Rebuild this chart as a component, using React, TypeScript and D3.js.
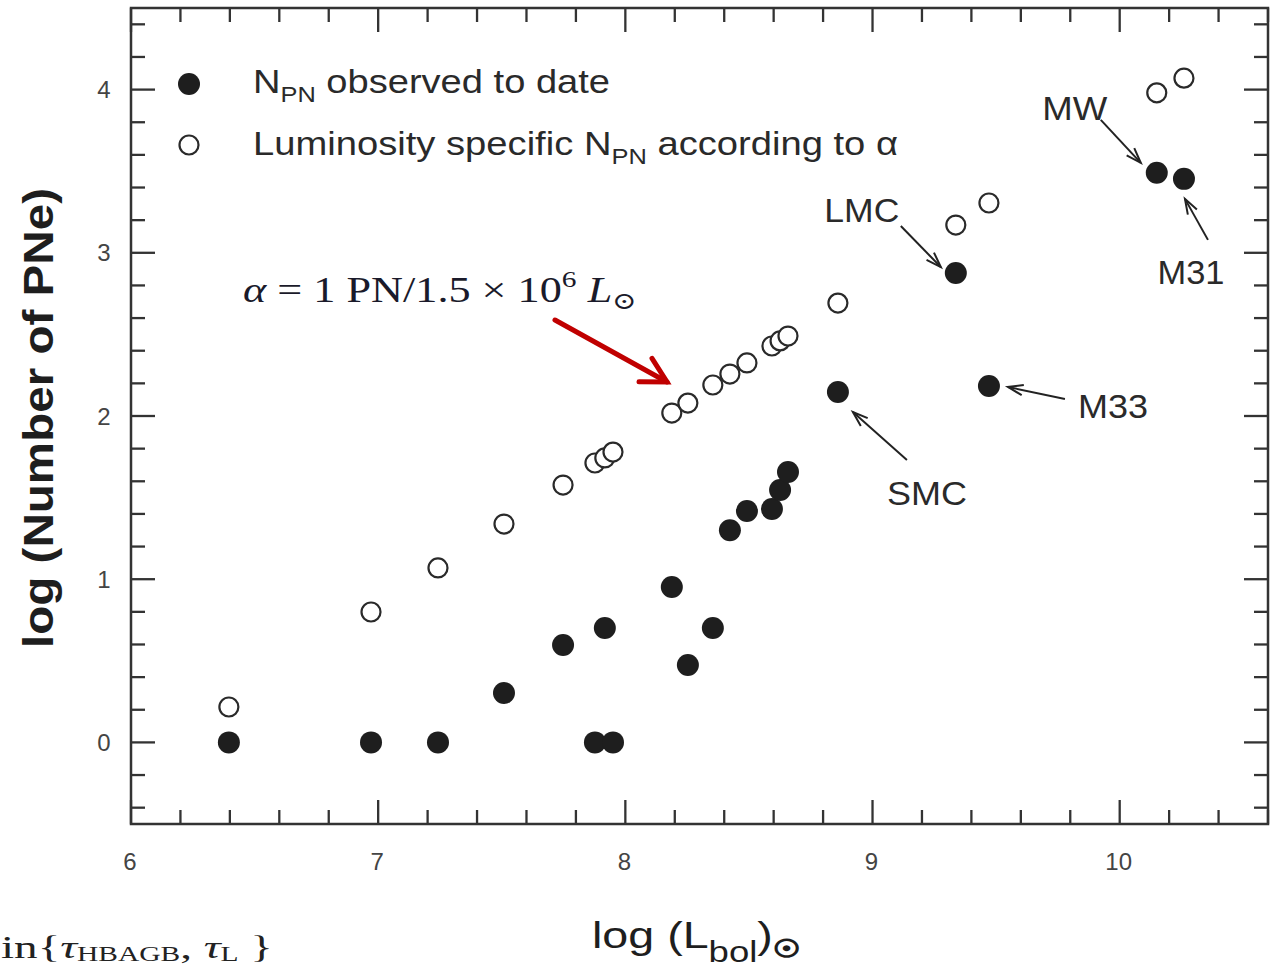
import React from 'react';
import * as d3 from 'd3';

// ---- data ----
const logLbol = [6.396, 6.971, 7.242, 7.509, 7.748, 7.877, 7.917, 7.95, 8.188, 8.253, 8.354, 8.423, 8.492, 8.593, 8.626, 8.658, 8.86, 9.337, 9.471, 10.15, 10.26];
const logNObserved = [0, 0, 0, 0.303, 0.597, 0, 0.701, 0, 0.952, 0.474, 0.701, 1.3, 1.418, 1.43, 1.547, 1.657, 2.147, 2.876, 2.184, 3.49, 3.453];
const logNPredicted = [0.217, 0.799, 1.069, 1.338, 1.577, 1.712, 1.743, 1.779, 2.018, 2.079, 2.19, 2.257, 2.325, 2.429, 2.46, 2.49, 2.692, 3.17, 3.305, 3.98, 4.07];

const xTickValues = [6, 7, 8, 9, 10];
const xTickLabels = ['6', '7', '8', '9', '10'];
const yTickValues = [0, 1, 2, 3, 4];
const yTickLabels = ['0', '1', '2', '3', '4'];

const galaxyNames = ['SMC', 'LMC', 'M33', 'MW', 'M31'];
const galaxyIndex = [16, 17, 18, 19, 20];

const legendLabels = ['observed to date', 'according to α'];

// ---- layout ----
const W = 1274;
const H = 972;
const plot = { left: 131, right: 1268, top: 8, bottom: 824 };

// label placement relative to the annotated point (pixels)
const annot: Record<string, { tx: number; ty: number; sx: number; sy: number; ex: number; ey: number; tl: number }> = {
  SMC: { tx: 89, ty: 113, sx: 69, sy: 68, ex: 15, ey: 20, tl: 80 },
  LMC: { tx: -94, ty: -51, sx: -55, sy: -47, ex: -15, ey: -6, tl: 75 },
  M33: { tx: 124, ty: 32, sx: 76, sy: 13, ex: 19, ey: 1, tl: 70 },
  MW: { tx: -82, ty: -53, sx: -56, sy: -53, ex: -16, ey: -10, tl: 65 },
  M31: { tx: 7, ty: 105, sx: 24, sy: 61, ex: 1, ey: 20, tl: 67 },
};

const SANS = '"Liberation Sans", Arial, Helvetica, sans-serif';
const SERIF = '"Liberation Serif", "DejaVu Serif", serif';
const INK = '#1e1e1e';
const AXIS = '#333';

function arrowHead(x1: number, y1: number, x2: number, y2: number, len: number, ang: number) {
  const a = Math.atan2(y2 - y1, x2 - x1);
  const p1 = [x2 - len * Math.cos(a - ang), y2 - len * Math.sin(a - ang)];
  const p2 = [x2 - len * Math.cos(a + ang), y2 - len * Math.sin(a + ang)];
  return `M${p1[0]},${p1[1]}L${x2},${y2}L${p2[0]},${p2[1]}`;
}

export default function App() {
  const x = d3.scaleLinear().domain([6, 10.6]).range([plot.left, plot.right]);
  const y = d3.scaleLinear().domain([-0.5, 4.5]).range([plot.bottom, plot.top]);

  const xMinor = d3.range(6, 10.6 + 1e-6, 0.2).filter((v) => Math.abs(v - Math.round(v)) > 1e-6);
  const yMinor = d3.range(-0.4, 4.4 + 1e-6, 0.2).filter((v) => Math.abs(v - Math.round(v)) > 1e-6);
  const MAJ = 24;
  const MIN = 14;

  const redStart = [555, 320];
  const redTip = [667, 382];

  return (
    <svg width={W} height={H} style={{ position: 'absolute', left: 0, top: 0, display: 'block', background: '#fff' }}>
      {/* frame */}
      <rect x={plot.left} y={plot.top} width={plot.right - plot.left} height={plot.bottom - plot.top} fill="none" stroke={AXIS} strokeWidth={2.5} />

      {/* ticks */}
      <g stroke={AXIS} strokeWidth={2.3}>
        {xTickValues.map((v) => (
          <g key={'xM' + v}>
            <line x1={x(v)} x2={x(v)} y1={plot.bottom} y2={plot.bottom - MAJ} />
            <line x1={x(v)} x2={x(v)} y1={plot.top} y2={plot.top + MAJ} />
          </g>
        ))}
        {xMinor.map((v) => (
          <g key={'xm' + v}>
            <line x1={x(v)} x2={x(v)} y1={plot.bottom} y2={plot.bottom - MIN} />
            <line x1={x(v)} x2={x(v)} y1={plot.top} y2={plot.top + MIN} />
          </g>
        ))}
        {yTickValues.map((v) => (
          <g key={'yM' + v}>
            <line x1={plot.left} x2={plot.left + MAJ} y1={y(v)} y2={y(v)} />
            <line x1={plot.right} x2={plot.right - MAJ} y1={y(v)} y2={y(v)} />
          </g>
        ))}
        {yMinor.map((v) => (
          <g key={'ym' + v}>
            <line x1={plot.left} x2={plot.left + MIN} y1={y(v)} y2={y(v)} />
            <line x1={plot.right} x2={plot.right - MIN} y1={y(v)} y2={y(v)} />
          </g>
        ))}
      </g>

      {/* tick labels */}
      <g fontFamily={SANS} fontSize={24} fill="#444">
        {xTickValues.map((v, i) => (
          <text key={'xl' + v} x={x(v) - 1} y={861} textAnchor="middle" dominantBaseline="central">
            {xTickLabels[i]}
          </text>
        ))}
        {yTickValues.map((v, i) => (
          <text key={'yl' + v} x={104} y={y(v)} textAnchor="middle" dominantBaseline="central">
            {yTickLabels[i]}
          </text>
        ))}
      </g>

      {/* axis titles */}
      <text fontFamily={SANS} fontSize={37} fill={INK} x={592} y={948} textLength={208} lengthAdjust="spacingAndGlyphs">
        log (L<tspan fontSize={29} dy={14}>bol</tspan>
        <tspan dy={-14}>)</tspan>
        <tspan fontSize={24} fontWeight="bold" dy={9} fontFamily='"DejaVu Sans", sans-serif' stroke={INK} strokeWidth={1.6}>☉</tspan>
      </text>
      <text
        transform="translate(53,418) rotate(-90)"
        fontFamily={SANS}
        fontSize={43}
        fontWeight="bold"
        fill={INK}
        textAnchor="middle"
        textLength={460}
        lengthAdjust="spacingAndGlyphs"
      >
        log (Number of PNe)
      </text>

      {/* points */}
      <g>
        {logLbol.map((v, i) => (
          <circle key={'o' + i} cx={x(v)} cy={y(logNPredicted[i])} r={9.5} fill="#fff" stroke="#2a2a2a" strokeWidth={2.2} />
        ))}
        {logLbol.map((v, i) => (
          <circle key={'f' + i} cx={x(v)} cy={y(logNObserved[i])} r={11} fill={INK} />
        ))}
      </g>

      {/* legend */}
      <circle cx={189} cy={84} r={11} fill={INK} />
      <circle cx={189} cy={145} r={9.5} fill="#fff" stroke="#2a2a2a" strokeWidth={2.2} />
      <text fontFamily={SANS} fontSize={33} fill="#2a2a2a" x={253} y={93} textLength={357} lengthAdjust="spacingAndGlyphs">
        N<tspan fontSize={22} dy={9}>PN</tspan>
        <tspan dy={-9}> {legendLabels[0]}</tspan>
      </text>
      <text fontFamily={SANS} fontSize={33} fill="#2a2a2a" x={253} y={155} textLength={645} lengthAdjust="spacingAndGlyphs">
        Luminosity specific N<tspan fontSize={22} dy={9}>PN</tspan>
        <tspan dy={-9}> {legendLabels[1]}</tspan>
      </text>

      {/* galaxy annotations */}
      <g>
        {galaxyNames.map((name, k) => {
          const i = galaxyIndex[k];
          const px = x(logLbol[i]);
          const py = y(logNObserved[i]);
          const a = annot[name];
          const x1 = px + a.sx, y1 = py + a.sy, x2 = px + a.ex, y2 = py + a.ey;
          return (
            <g key={name}>
              <line x1={x1} y1={y1} x2={x2} y2={y2} stroke="#222" strokeWidth={2} />
              <path d={arrowHead(x1, y1, x2, y2, 16, 0.33)} fill="none" stroke="#222" strokeWidth={2} />
              <text
                x={px + a.tx}
                y={py + a.ty}
                textAnchor="middle"
                fontFamily={SANS}
                fontSize={34}
                fill="#2a2a2a"
                textLength={a.tl}
                lengthAdjust="spacingAndGlyphs"
              >
                {name}
              </text>
            </g>
          );
        })}
      </g>

      {/* alpha formula */}
      <text fontFamily={SERIF} fontSize={36} fill="#1a1a2a" x={243} y={302} textLength={394} lengthAdjust="spacingAndGlyphs">
        <tspan fontStyle="italic">α</tspan> = 1 PN/1.5 × 10<tspan fontSize={24} dy={-15}>6</tspan>
        <tspan dy={15} fontStyle="italic"> L</tspan>
        <tspan fontSize={24} dy={7}>⊙</tspan>
      </text>

      {/* red arrow */}
      <g stroke="#c00000" strokeWidth={5} fill="none" strokeLinecap="round">
        <line x1={redStart[0]} y1={redStart[1]} x2={redTip[0]} y2={redTip[1]} />
        <path d={arrowHead(redStart[0], redStart[1], redTip[0], redTip[1], 28, 0.5)} strokeLinejoin="miter" />
      </g>

      {/* fragment of the surrounding page text */}
      <text fontFamily={SERIF} fontSize={32} fill="#222" x={1} y={958} textLength={272} lengthAdjust="spacingAndGlyphs">
        in{'{'}
        <tspan fontStyle="italic">τ</tspan>
        <tspan fontSize={20} dy={3}>HBAGB</tspan>
        <tspan dy={-3}>, </tspan>
        <tspan fontStyle="italic">τ</tspan>
        <tspan fontSize={20} dy={3}>L</tspan>
        <tspan dy={-3}>{'   }'}</tspan>
      </text>
    </svg>
  );
}
